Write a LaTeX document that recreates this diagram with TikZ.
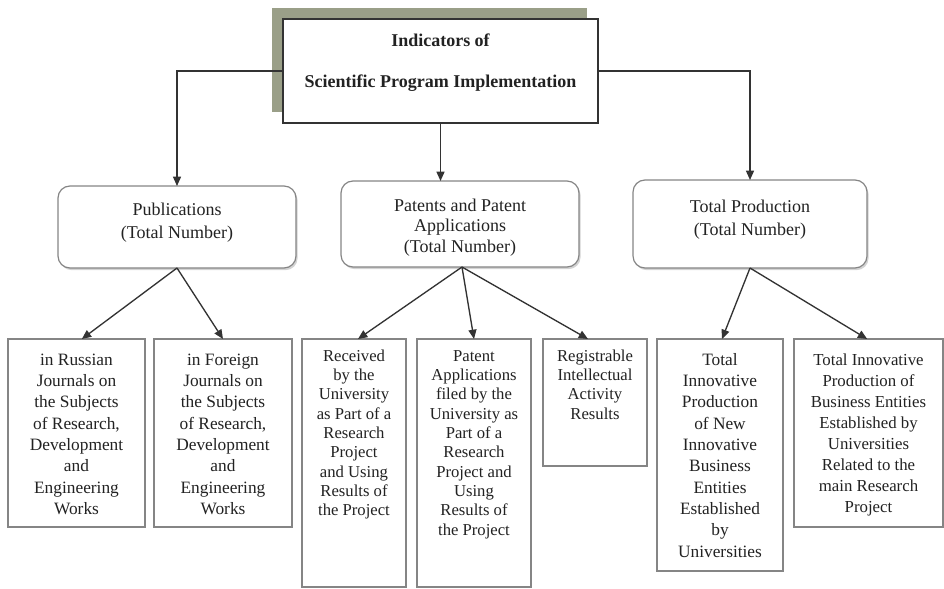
\documentclass[tikz,border=0pt]{standalone}
\usepackage{fontspec}
\setmainfont{Liberation Serif}
\usetikzlibrary{arrows.meta,shadows}
\definecolor{txtc}{HTML}{222222}
\definecolor{linec}{HTML}{333333}
\definecolor{boxc}{HTML}{858585}
\definecolor{shadc}{HTML}{9A9F88}
\newcommand{\bxtext}[6]{\parbox[c][#2pt][t]{#1pt}{\centering\fontsize{#4}{#5}\selectfont\rule{0pt}{#3pt}\ignorespaces#6\par}}
\tikzset{
  leafbox/.style={draw=boxc, line width=0.9pt, fill=white, inner sep=0pt, outer sep=0pt, anchor=north west, text=txtc},
  midbox/.style={draw=boxc, line width=0.9pt, fill=white, rounded corners=9pt, inner sep=0pt, outer sep=0pt, anchor=north west, text=txtc,
     drop shadow={shadow xshift=1.2pt, shadow yshift=-1.6pt, opacity=0.35, fill=gray}},
  topbox/.style={draw=linec, line width=1pt, fill=white, inner sep=0pt, outer sep=0pt, anchor=north west, text=txtc},
  arr/.style={draw=linec, line width=1pt, -{Triangle[length=7pt,width=6pt]}}
}
\begin{document}
\begin{tikzpicture}[x=0.75pt,y=-0.75pt]
\useasboundingbox (0,0) rectangle (944,588);
% shadow of top box
\fill[shadc] (272,8) rectangle (587,112);
\node[topbox] (top) at (283,19) {\bxtext{236.25}{78}{20.5}{13.5}{30.75}{\bfseries Indicators of\\ Scientific Program Implementation}};
% middle level
\node[midbox] (pub) at (58,186) {\bxtext{178.5}{61.5}{21.75}{13.5}{17.25}{Publications\\ (Total Number)}};
\node[midbox] (pat) at (341,181) {\bxtext{178.5}{64.5}{22.5}{13.5}{15.5}{Patents and Patent\\ Applications\\ (Total Number)}};
\node[midbox] (prod) at (633,180) {\bxtext{175.5}{66}{24}{13.5}{17.25}{Total Production\\ (Total Number)}};
% leaves
\node[leafbox] (b1) at (8,339) {\bxtext{102.75}{141}{19.5}{13}{16}{in Russian\\ Journals on\\ the Subjects\\ of Research,\\ Development\\ and\\ Engineering\\ Works}};
\node[leafbox] (b2) at (154,339) {\bxtext{103.5}{141}{19.5}{13}{16}{in Foreign\\ Journals on\\ the Subjects\\ of Research,\\ Development\\ and\\ Engineering\\ Works}};
\node[leafbox] (b3) at (302,339) {\bxtext{78}{186}{16.5}{12.5}{14.5}{Received\\ by the\\ University\\ as Part of a\\ Research\\ Project\\ and Using\\ Results of\\ the Project}};
\node[leafbox] (b4) at (417,339) {\bxtext{85.5}{186}{16.5}{12.5}{14.5}{Patent\\ Applications\\ filed by the\\ University as\\ Part of a\\ Research\\ Project and\\ Using\\ Results of\\ the Project}};
\node[leafbox] (b5) at (543,339) {\bxtext{78}{95.25}{16.5}{12.5}{14.5}{Registrable\\ Intellectual\\ Activity\\ Results}};
\node[leafbox] (b6) at (657,339) {\bxtext{94.5}{174}{19.5}{13}{16}{Total\\ Innovative\\ Production\\ of New\\ Innovative\\ Business\\ Entities\\ Established\\ by\\ Universities}};
\node[leafbox] (b7) at (794,339) {\bxtext{111.75}{141}{19.5}{12.6}{15.75}{Total Innovative\\ Production of\\ Business Entities\\ Established by\\ Universities\\ Related to the\\ main Research\\ Project}};
% connectors
\draw[arr] (top.west) -| (pub.north);
\draw[arr] (top.east) -| (prod.north);
\draw[arr] (top.south) -- (top.south |- pat.north);
\draw[arr] (pub.south) -- ([xshift=4pt]b1.north);
\draw[arr] (pub.south) -- (b2.north);
\draw[arr] ([xshift=1.5pt]pat.south) -- ([xshift=3pt]b3.north);
\draw[arr] ([xshift=1.5pt]pat.south) -- (b4.north);
\draw[arr] ([xshift=1.5pt]pat.south) -- ([xshift=-5.25pt]b5.north);
\draw[arr] (prod.south) -- ([xshift=1.5pt]b6.north);
\draw[arr] (prod.south) -- ([xshift=-1pt]b7.north);
\end{tikzpicture}
\end{document}
